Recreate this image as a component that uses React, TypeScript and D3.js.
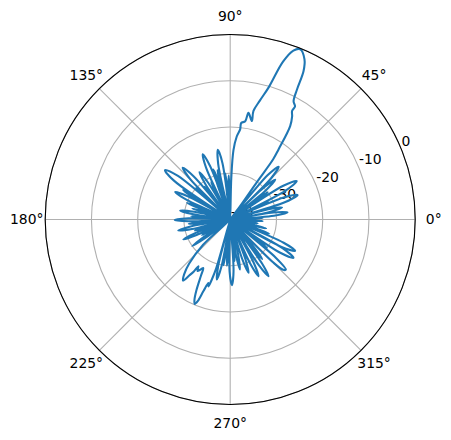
import React from "react";
import * as d3 from "d3";

// [angle in degrees (counter-clockwise from east), gain in dB]
const sectorA: [number, number][] = [
  [0, -40],
  [1.2, -37], [2.5, -33], [3.8, -37],
  [4.6, -40],
  [4.8, -30.5], [7, -27.5], [9.2, -30.5],
  [10, -40],
  [10.8, -31.5], [13, -28.5], [15.2, -31.5],
  [16.3, -40],
  [17.6, -27.5], [20, -24.5], [22.4, -27.5],
  [23, -40],
  [23.8, -34.5], [25, -31], [26.2, -34.5],
  [27, -40],
  [27.6, -26.4], [30, -23.4], [32.4, -26.4],
  [33.2, -40],
  [34.6, -33.5], [36, -30], [37.4, -33.5],
  [38.6, -40],
  [39.4, -30], [41.5, -27], [43.6, -30],
  [44.3, -40],
  [45.2, -27.5], [47.5, -24.5], [49.8, -27.5],
  [50.5, -40],
];

const mainLobe: [number, number][] = [
  [53.5, -36], [54.5, -30], [54.5, -24], [55.4, -21.6], [57.3, -16], [59, -14],
  [60.3, -13], [60.2, -11.8], [61.8, -11], [62.8, -8.4], [63.7, -4.2],
  [65.1, -1.85], [67.6, -0.2], [69.5, -1], [71.5, -4], [73.8, -10.3],
  [76, -13.5], [77.9, -16], [77.6, -18.2], [80.3, -16.6], [81.3, -18.5],
  [83.5, -19], [83.7, -20.4], [85.5, -22], [87.3, -25], [88.5, -31], [89.3, -40],
];

const sectorB: [number, number][] = [
  [90.8, -34], [92, -30.5], [93.2, -34],
  [94, -40],
  [95, -33.5], [96, -30], [97, -33.5],
  [97.6, -40],
  [97.8, -27.7], [100, -24.7], [102.2, -27.7],
  [102.8, -40],
  [103.2, -32.5], [104.5, -29], [105.8, -32.5],
  [106.3, -40],
  [107, -31.8], [108.6, -28.6], [110, -31.8],
  [110.3, -40],
  [110.6, -27.7], [112.8, -24.7], [115, -27.7],
  [115.6, -40],
  [116.2, -34.5], [117.3, -31], [118.4, -34.5],
  [119.5, -40],
  [120.9, -30.8], [123, -27.8], [125.1, -30.8],
  [125.8, -40],
  [126.8, -34.5], [128, -31], [129.2, -34.5],
  [130, -40],
  [130.2, -27.8], [132.5, -24.8], [134.8, -27.8],
  [135.3, -40],
  [136, -33.5], [137.2, -30], [138.4, -33.5],
  [139.2, -40],
  [140.2, -25.3], [142.8, -22.3], [145.4, -25.3],
  [146, -40],
  [146.6, -31], [148, -28], [149.4, -31],
  [150.3, -40],
  [151.3, -29.7], [153.5, -26.7], [155.7, -29.7],
  [156.5, -40],
  [157.6, -33.5], [159, -30], [160.4, -33.5],
  [161.5, -40],
  [162.8, -35], [164, -31.5], [165.2, -35],
  [166.5, -40],
  [168, -32], [170, -29], [172, -32],
  [173, -40],
  [174, -35], [175.2, -31.5], [176.4, -35],
  [177.5, -40],
  [178.5, -31], [180.5, -28], [182.5, -31],
  [183.3, -40],
  [184.8, -34.5], [186, -31], [187.2, -34.5],
  [188.5, -40],
  [189.9, -31.5], [192, -28.5], [194.1, -31.5],
  [195, -40],
  [196.3, -35.5], [197.5, -32], [198.7, -35.5],
  [200, -40],
  [201.2, -32], [203, -29], [204.8, -32],
  [206, -40],
  [207.8, -36.5], [209, -33], [210.2, -36.5],
  [211.8, -40],
  [213.3, -33.5], [215, -30], [216.7, -33.5],
  [219.5, -40],
];

const backLobe: [number, number][] = [
  [223, -32], [227, -27], [230, -24.5], [232.3, -23.3], [233.8, -25],
  [235, -26.3], [235.8, -27.8], [237.5, -26.8], [239.5, -27.5], [241, -28],
  [242.5, -26.3], [244.5, -23], [246, -21], [247.2, -20.2], [248.3, -21],
  [249.5, -23.5], [251, -25.5], [252, -24.8], [253, -26.5], [254, -29],
  [255, -40],
];

const sectorC: [number, number][] = [
  [255.5, -29.7], [257.5, -26.7], [259.5, -29.7],
  [260.2, -40],
  [260.6, -33.5], [261.7, -30], [262.8, -33.5],
  [264, -40],
  [264.8, -33.5], [266, -30], [267.2, -33.5],
  [268.3, -40],
  [269.3, -28.8], [271.5, -25.8], [273.7, -28.8],
  [274.4, -40],
  [275.1, -34.5], [276.2, -31], [277.3, -34.5],
  [278.2, -40],
  [279.3, -32], [281, -29], [282.7, -32],
  [283.5, -40],
  [284.2, -36.5], [285.3, -33], [286.4, -36.5],
  [286.9, -40],
  [287, -30.8], [289, -27.8], [291, -30.8],
  [291.4, -40],
  [291.9, -34.5], [292.8, -31], [293.7, -34.5],
  [294.3, -40],
  [294.5, -29.3], [296.5, -26.3], [298.5, -29.3],
  [299, -40],
  [299.7, -34.5], [300.7, -31], [301.7, -34.5],
  [302.1, -40],
  [302.1, -28.2], [304, -25.2], [305.9, -28.2],
  [306.5, -40],
  [307.4, -32], [309, -29], [310.6, -32],
  [311.5, -40],
  [312.2, -36.5], [313.2, -33], [314.2, -36.5],
  [314.7, -40],
  [315, -27], [316.5, -24.2], [318, -23.8], [320, -27],
  [320.6, -40],
  [321.3, -33.5], [322.5, -30], [323.7, -33.5],
  [325, -40],
  [326.4, -27], [328.8, -24], [331.2, -27],
  [331.6, -40],
  [331.9, -27.4], [334.2, -24.4], [336.5, -27.4],
  [337.5, -40],
  [338.8, -34.5], [340, -31], [341.2, -34.5],
  [343, -40],
  [344.8, -35.5], [346, -32], [347.2, -35.5],
  [349, -40],
  [350.8, -37.5], [352, -34], [353.2, -37.5],
  [355, -40],
  [356, -36.5], [357.2, -33], [358.4, -36.5],
  [359.5, -40],
];

const radialTicks = [-40, -30, -20, -10, 0];
const radialLabels = ["-40", "-30", "-20", "-10", "0"];
const angleTicks = [0, 45, 90, 135, 180, 225, 270, 315];
const angleLabels = ["0°", "45°", "90°", "135°", "180°", "225°", "270°", "315°"];

export default function App() {
  const W = 451;
  const H = 440;
  const cx = 230.2;
  const cy = 219.5;
  const R = 185;
  const fs = 13.9;
  const font = "DejaVu Sans, sans-serif";

  const r = d3.scaleLinear().domain([-40, 0]).range([0, R]).clamp(true);
  const data = [...sectorA, ...mainLobe, ...sectorB, ...backLobe, ...sectorC];

  const line = d3
    .lineRadial<[number, number]>()
    .angle((d) => ((90 - d[0]) * Math.PI) / 180)
    .radius((d) => r(d[1]))
    .curve(d3.curveCatmullRomClosed.alpha(0.5));

  const rad = (deg: number) => (deg * Math.PI) / 180;
  const labelAngle = 22.5;

  return (
    <svg
      width={W}
      height={H}
      style={{ position: "absolute", left: 0, top: 0, background: "#fff" }}
    >
      <g transform={`translate(${cx},${cy})`}>
        {radialTicks
          .filter((t) => t > -40)
          .map((t) => (
            <circle key={t} r={r(t)} fill="none" stroke="#b0b0b0" strokeWidth={1.1} />
          ))}
        {angleTicks.map((a) => (
          <line
            key={a}
            x1={0}
            y1={0}
            x2={R * Math.cos(rad(a))}
            y2={-R * Math.sin(rad(a))}
            stroke="#b0b0b0"
            strokeWidth={1.1}
          />
        ))}
        {radialTicks.map((t, i) => {
          const rr = r(t);
          const x = rr * Math.cos(rad(labelAngle));
          const y = -rr * Math.sin(rad(labelAngle));
          return (
            <text
              key={t}
              x={x + 0.5}
              y={y - 2.6}
              fontFamily={font}
              fontSize={fs}
              fill="#000"
              textAnchor="start"
            >
              {radialLabels[i]}
            </text>
          );
        })}
        {angleTicks.map((a, i) => {
          const rr = R + 18.5;
          const x = rr * Math.cos(rad(a));
          const y = -rr * Math.sin(rad(a));
          return (
            <text
              key={a}
              x={x}
              y={y + 4.8}
              fontFamily={font}
              fontSize={fs}
              fill="#000"
              textAnchor="middle"
            >
              {angleLabels[i]}
            </text>
          );
        })}
        <path
          d={line(data) || ""}
          fill="none"
          stroke="#1f77b4"
          strokeWidth={2.08}
          strokeLinejoin="round"
        />
        <circle r={R} fill="none" stroke="#000" strokeWidth={1.1} />
      </g>
    </svg>
  );
}
